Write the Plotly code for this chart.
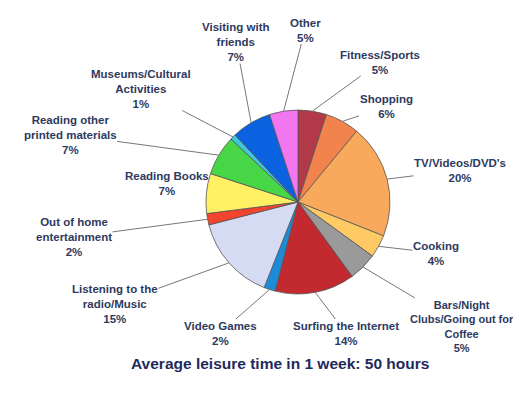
import math
import plotly.graph_objects as go

# ---- data ----
categories = ["Fitness/Sports", "Shopping", "TV/Videos/DVD's", "Cooking",
              "Bars/Night Clubs/Going out for Coffee", "Surfing the Internet",
              "Video Games", "Listening to the radio/Music", "Out of home entertainment",
              "Reading Books", "Reading other printed materials",
              "Museums/Cultural Activities", "Visiting with friends", "Other"]
shares = [5, 6, 20, 4, 5, 14, 2, 15, 2, 7, 7, 1, 7, 5]
label_texts = ["Fitness/Sports<br>5%", "Shopping<br>6%", "TV/Videos/DVD's<br>20%",
               "Cooking<br>4%", "Bars/Night<br>Clubs/Going out for<br>Coffee<br>5%",
               "Surfing the Internet<br>14%", "Video Games<br>2%",
               "Listening to the<br>radio/Music<br>15%", "Out of home<br>entertainment<br>2%",
               "Reading Books<br>7%", "Reading other<br>printed materials<br>7%",
               "Museums/Cultural<br>Activities<br>1%", "Visiting with<br>friends<br>7%",
               "Other<br>5%"]
title_text = "Average leisure time in 1 week: 50 hours"

# ---- styles / layout ----
colors = ["#B23A48", "#F2834C", "#F9A95C", "#FFC964", "#9A9A9A", "#C22A30",
          "#1C8BD8", "#D5DBF2", "#F2442E", "#FFF064", "#46D646", "#3EC8E0",
          "#0B62E0", "#F276F0"]
W, H = 521, 393
cx, cy, R = 290, 194, 92
# label centre positions (pixels)
label_pos = [(372, 54), (378, 99), (452, 162), (428, 245), (454, 318),
             (338, 325), (212, 325), (107, 296), (66, 229), (159, 175),
             (62, 127), (133, 81), (228, 34), (297, 22)]
label_sizes = [11.5, 11.5, 11.5, 11.5, 11, 11.5, 11.5, 11.5, 11.5, 11.5,
               11.5, 11.5, 11.5, 11.5]

fig = go.Figure(go.Pie(
    labels=categories, values=shares, sort=False, direction="clockwise",
    rotation=0, textinfo="none", hoverinfo="label+percent",
    marker=dict(colors=colors, line=dict(color="#555555", width=0.8)),
    domain=dict(x=[(cx - R) / W, (cx + R) / W],
                y=[1 - (cy + R) / H, 1 - (cy - R) / H]),
    showlegend=False,
))

total = sum(shares)
cum = 0
annotations = []
for txt, v, (lx, ly), fs in zip(label_texts, shares, label_pos, label_sizes):
    mid = (cum + v / 2) / total * 2 * math.pi
    cum += v
    tx = cx + R * math.sin(mid)
    ty = cy - R * math.cos(mid)
    annotations.append(dict(
        x=tx / W, y=1 - ty / H, xref="paper", yref="paper",
        ax=lx - tx, ay=ly - ty, axref="pixel", ayref="pixel",
        text="<b>" + txt + "</b>", showarrow=True, arrowhead=0,
        arrowwidth=1, arrowcolor="#777777", standoff=0, borderpad=0,
        font=dict(family="Liberation Sans, Arial, sans-serif", size=fs, color="#2E3A60"),
        align="center",
    ))

annotations.append(dict(
    x=272 / W, y=1 - 366 / H, xref="paper", yref="paper", showarrow=False,
    text="<b>" + title_text + "</b>",
    font=dict(family="Liberation Sans, Arial, sans-serif", size=15.5, color="#1F2A5C"),
))

fig.update_layout(
    width=W, height=H, margin=dict(l=0, r=0, t=0, b=0),
    paper_bgcolor="white", plot_bgcolor="white",
    annotations=annotations,
)
fig.write_html("out.html")
